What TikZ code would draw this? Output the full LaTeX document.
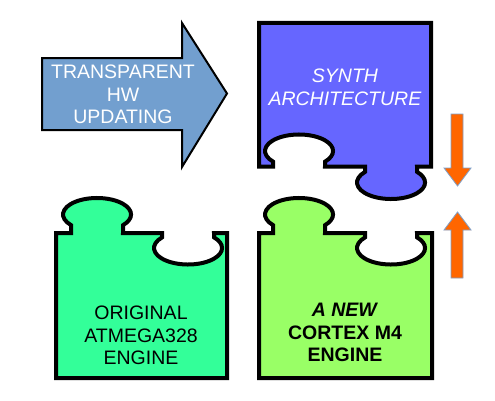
\documentclass[tikz,border=0pt]{standalone}
\usepackage{fontspec}
\setmainfont{Liberation Sans}
\usetikzlibrary{positioning}
\definecolor{arrowblue}{HTML}{729FCF}
\definecolor{synthblue}{HTML}{6666FF}
\definecolor{oldgreen}{HTML}{33FF99}
\definecolor{newgreen}{HTML}{99FF66}
\definecolor{moveorange}{HTML}{FF6600}
\definecolor{moveedge}{HTML}{7F9FC8}
\tikzstyle{piece}=[draw=black,line width=4pt]
\tikzstyle{bigarrow}=[draw=black,line width=2pt,fill=arrowblue]
\tikzstyle{movearrow}=[draw=moveedge,line width=0.8pt,fill=moveorange]
\tikzstyle{piecetext}=[align=center,inner sep=0pt,font=\fontsize{19.5}{22.5}\selectfont]

\begin{document}
\begin{tikzpicture}[x=1pt,y=1pt]
  \useasboundingbox (0,0) rectangle (495,400);

  % blue arrow
  \draw[bigarrow] (42,342) -- (182,342) -- (182,377) -- (227,306.5)
        -- (182,233) -- (182,270) -- (42,270) -- cycle;
  \node[piecetext,text=white] (hw) at (123,305.5) {TRANSPARENT\\HW\\UPDATING};

  % synth piece, hole at 299, knob at 391
  \draw[piece,fill=synthblue] (259,233.5) -- (273,233.5) -- (273,238.4)
        arc[start angle=220,end angle=-40,x radius=34,y radius=16.5]
        -- (325,233.5) -- (365,233.5) -- (365,228.1)
        arc[start angle=140,end angle=400,x radius=34,y radius=16.5]
        -- (417,233.5) -- (431,233.5) -- (431,377) -- (259,377) -- cycle;
  \node[piecetext,text=white] (synth) at (345,312.5) {\textit{SYNTH}\\\textit{ARCHITECTURE}};

  % original piece, knob at 97, hole at 188
  \draw[piece,fill=oldgreen] (56,167) -- (71,167) -- (71,174.9)
        arc[start angle=220,end angle=-40,x radius=34,y radius=16.5]
        -- (123,167) -- (162,167) -- (162,162.6)
        arc[start angle=140,end angle=400,x radius=34,y radius=16.5]
        -- (214,167) -- (227,167) -- (227,22) -- (56,22) -- cycle;
  \node[piecetext] (original) at (141,64.5) {ORIGINAL\\ATMEGA328\\ENGINE};

  % new piece, knob at 299, hole at 391
  \draw[piece,fill=newgreen] (259,167) -- (273,167) -- (273,174.9)
        arc[start angle=220,end angle=-40,x radius=34,y radius=16.5]
        -- (325,167) -- (365,167) -- (365,162.6)
        arc[start angle=140,end angle=400,x radius=34,y radius=16.5]
        -- (417,167) -- (432,167) -- (432,22) -- (259,22) -- cycle;
  \node[piecetext,font=\fontsize{19.5}{22.5}\selectfont\bfseries] (cortex) at (345,67.5)
        {\textit{A NEW}\\CORTEX M4\\ENGINE};

  % orange arrows
  \draw[movearrow] (451,286) -- (463,286) -- (463,232) -- (471,232)
        -- (457.5,214) -- (444,232) -- (451,232) -- cycle;
  \draw[movearrow] (451,122) -- (463,122) -- (463,170) -- (471,170)
        -- (457.5,188) -- (444,170) -- (451,170) -- cycle;
\end{tikzpicture}
\end{document}
